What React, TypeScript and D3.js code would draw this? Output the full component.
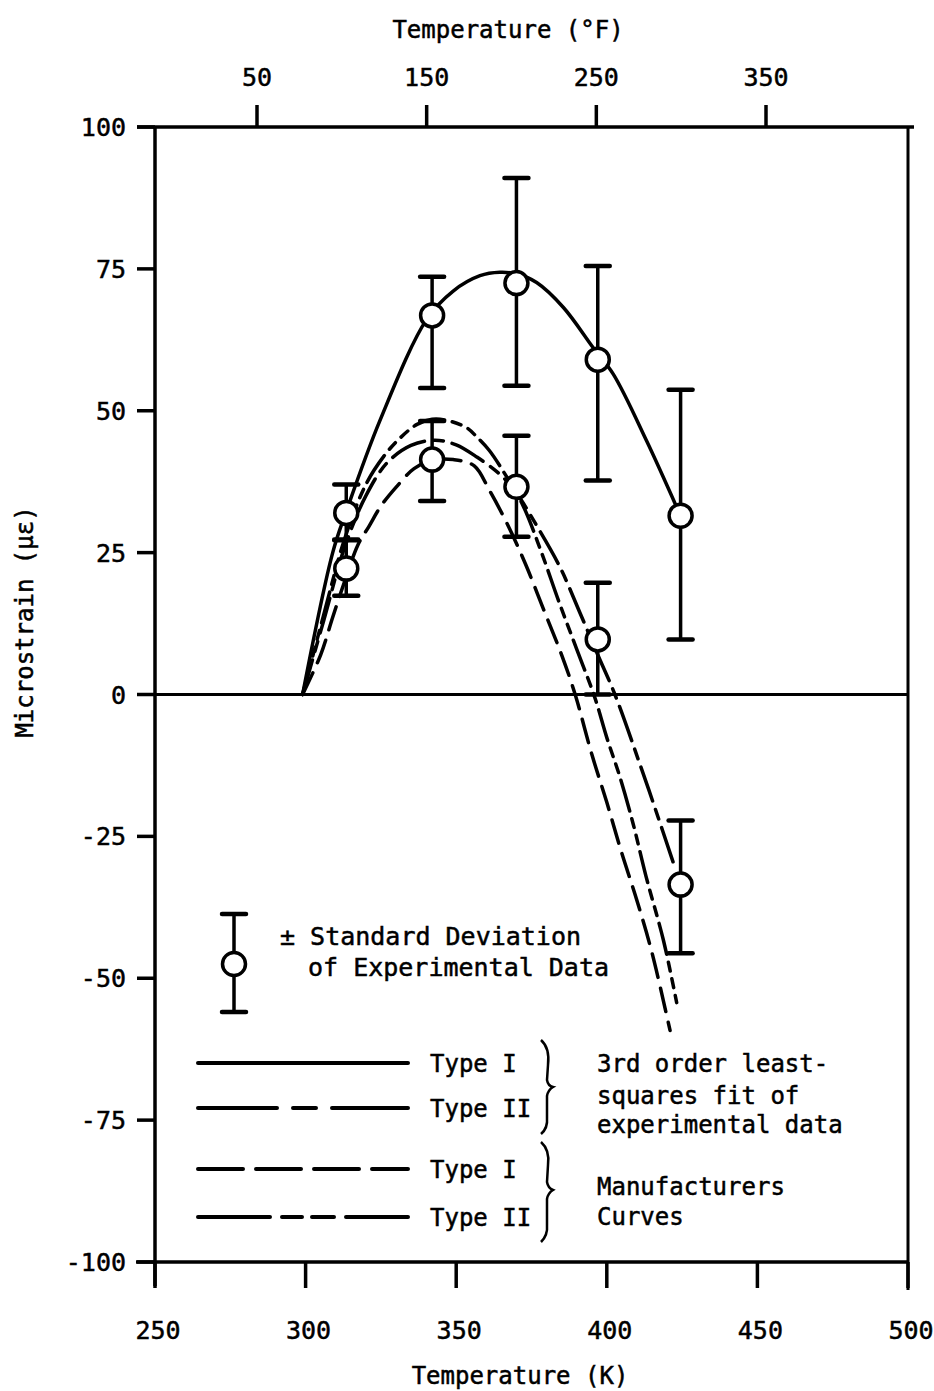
import * as d3 from 'd3'

// axis ticks
const kelvinTicks = [250, 300, 350, 400, 450, 500]
const fahrenheitTicks = [50, 150, 250, 350]
const strainTicks = [100, 75, 50, 25, 0, -25, -50, -75, -100]

// experimental data (mean and +/- standard deviation limits)
const testTemps = [313.5, 342, 370, 397, 424.5]
const type1Mean = [32, 66.8, 72.5, 59, 31.5]
const type1Hi = [37, 73.6, 91, 75.5, 53.7]
const type1Lo = [27.2, 54, 54.4, 37.7, 9.7]
const type2Mean = [22.2, 41.4, 36.6, 9.7, -33.5]
const type2Hi = [27.3, 48.2, 45.6, 19.7, -22.2]
const type2Lo = [17.4, 34.1, 27.8, 0, -45.6]

// curves: [K, microstrain]
const fitType1: [number, number][] = [
  [299, 0], [309, 25], [313.6, 32.4], [324.7, 48.3], [340.2, 66.1], [349, 71.1],
  [357.9, 73.8], [364.5, 74.4], [370.2, 74.1], [376.7, 72.6], [385.6, 68.2],
  [395.5, 61.1], [402.2, 56.4], [413.2, 44.7], [423.2, 33],
]
const fitType2: [number, number][] = [
  [299, 0], [306, 13], [313, 26], [320, 35], [327, 40.8], [335, 43.9], [343, 44.8],
  [350, 44], [357, 41.8], [364.5, 38.8], [370, 35.5], [377, 29.5], [384.5, 22.4],
  [391, 14.5], [397, 7], [402.7, 0], [411, -12.3], [416, -20], [422, -29.5],
]
const mfrType1: [number, number][] = [
  [299, 0], [305, 7], [309, 13.6], [313, 20], [317.4, 26.4], [321, 29.6], [325, 33.2],
  [330, 36.5], [336, 39.8], [342, 41.3], [349, 41.4], [356, 40.3], [361, 36],
  [367, 30], [373, 23], [379, 15], [385, 7], [389.5, 0], [395, -10.5], [400, -19],
  [405, -28], [410, -36.3], [415, -45.5], [421, -59.2],
]
const mfrType2: [number, number][] = [
  [299, 0], [306, 14], [313, 27.5], [320, 37], [326, 42], [331, 45], [337, 47.6],
  [342, 48.5], [347, 48.3], [353.5, 47], [357, 45.3], [361, 43], [366, 39],
  [372, 33.5], [378, 25.5], [384, 16.5], [390, 8], [396, -0.5], [400, -7.6],
  [404.4, -14.6], [408.8, -22.9], [413, -32], [418.8, -43.3], [423.2, -54.3],
]

const curveStyles = [
  { data: fitType1, dash: '', label: 'Type I' },
  { data: fitType2, dash: '36,9,10,9', label: 'Type II' },
  { data: mfrType1, dash: '24,11', label: 'Type I' },
  { data: mfrType2, dash: '32,8,9,8,9,8', label: 'Type II' },
]
const legendDash = ['', '79,16,23,16', '45,13', '72,12,20,10,22,12']

const W = 934
const H = 1391
const FONT = "'DejaVu Sans Mono', monospace"

export default function App() {
  const x = d3.scaleLinear().domain([250, 500]).range([155, 908])
  const xF = d3.scaleLinear().domain([50, 350]).range([257, 766])
  const y = d3.scaleLinear().domain([-100, 100]).range([1262, 127])

  const line = d3
    .line<[number, number]>()
    .x((d) => x(d[0]))
    .y((d) => y(d[1]))
    .curve(d3.curveCatmullRom.alpha(0.5))

  const sw = 3.5
  const capW = 12

  const errorBars = (his: number[], los: number[], key: string) =>
    testTemps.map((t, i) => (
      <g key={key + i}>
        <line x1={x(t)} x2={x(t)} y1={y(his[i])} y2={y(los[i])} stroke="#000" strokeWidth={sw} />
        <line x1={x(t) - capW} x2={x(t) + capW} y1={y(his[i])} y2={y(his[i])} stroke="#000" strokeWidth={sw + 1} strokeLinecap="round" />
        <line x1={x(t) - capW} x2={x(t) + capW} y1={y(los[i])} y2={y(los[i])} stroke="#000" strokeWidth={sw + 1} strokeLinecap="round" />
      </g>
    ))

  const circles = (means: number[], key: string) =>
    testTemps.map((t, i) => (
      <circle key={key + i} cx={x(t)} cy={y(means[i])} r={11.5} fill="#fff" stroke="#000" strokeWidth={sw} />
    ))

  const legendY = [1063, 1108, 1169, 1217]
  const txt = { stroke: '#000', strokeWidth: 0.5 }

  return (
    <svg width={W} height={H} style={{ position: 'absolute', left: 0, top: 0, background: '#fff' }}
      fontFamily={FONT} fill="#000">
      <rect x={0} y={0} width={W} height={H} fill="#fff" />

      {/* frame */}
      <line x1={137} x2={914} y1={y(100)} y2={y(100)} stroke="#000" strokeWidth={3.5} />
      <line x1={x(250)} x2={x(250)} y1={y(100)} y2={1286} stroke="#000" strokeWidth={3.5} />
      <line x1={x(500)} x2={x(500)} y1={y(100)} y2={1290} stroke="#000" strokeWidth={3} />
      <line x1={136} x2={x(500)} y1={y(-100)} y2={y(-100)} stroke="#000" strokeWidth={3.5} />
      <line x1={x(250)} x2={x(500)} y1={y(0)} y2={y(0)} stroke="#000" strokeWidth={3} />

      {/* left axis */}
      {strainTicks.map((v) => (
        <g key={'yt' + v}>
          <line x1={137} x2={x(250)} y1={y(v)} y2={y(v)} stroke="#000" strokeWidth={3.5} />
          <text x={126} y={y(v)} dy="0.36em" textAnchor="end" fontSize={25} {...txt}>{v}</text>
        </g>
      ))}
      <text transform={`translate(33,${622}) rotate(-90)`} textAnchor="middle" fontSize={24} {...txt}>
        Microstrain (με)
      </text>

      {/* bottom axis */}
      {kelvinTicks.map((v) => (
        <g key={'xt' + v}>
          <line x1={x(v)} x2={x(v)} y1={y(-100)} y2={1288} stroke="#000" strokeWidth={3.5} />
          <text x={x(v) + 3} y={1339} textAnchor="middle" fontSize={25} {...txt}>{v}</text>
        </g>
      ))}
      <text x={520} y={1384} textAnchor="middle" fontSize={24} {...txt}>Temperature (K)</text>

      {/* top axis */}
      {fahrenheitTicks.map((v) => (
        <g key={'ft' + v}>
          <line x1={xF(v)} x2={xF(v)} y1={y(100)} y2={105} stroke="#000" strokeWidth={3.5} />
          <text x={xF(v)} y={86} textAnchor="middle" fontSize={25} {...txt}>{v}</text>
        </g>
      ))}
      <text x={508} y={38} textAnchor="middle" fontSize={24} {...txt}>Temperature (°F)</text>

      {/* curves */}
      {curveStyles.map((c, i) => (
        <path key={'c' + i} d={line(c.data) ?? ''} fill="none" stroke="#000" strokeWidth={sw}
          strokeDasharray={c.dash || undefined} strokeLinecap="round" />
      ))}

      {/* data */}
      {errorBars(type1Hi, type1Lo, 'e1')}
      {errorBars(type2Hi, type2Lo, 'e2')}
      {circles(type1Mean, 'p1')}
      {circles(type2Mean, 'p2')}

      {/* legend: error bar symbol */}
      <line x1={234} x2={234} y1={914} y2={1012} stroke="#000" strokeWidth={sw} />
      <line x1={234 - capW} x2={234 + capW} y1={914} y2={914} stroke="#000" strokeWidth={sw + 1} strokeLinecap="round" />
      <line x1={234 - capW} x2={234 + capW} y1={1012} y2={1012} stroke="#000" strokeWidth={sw + 1} strokeLinecap="round" />
      <circle cx={234} cy={964} r={11.5} fill="#fff" stroke="#000" strokeWidth={sw} />
      <text x={280} y={945} fontSize={25} {...txt}>± Standard Deviation</text>
      <text x={308} y={976} fontSize={25} {...txt}>of Experimental Data</text>

      {/* legend: line styles */}
      {curveStyles.map((c, i) => (
        <g key={'lg' + i}>
          <line x1={198} x2={408} y1={legendY[i]} y2={legendY[i]} stroke="#000" strokeWidth={4}
            strokeDasharray={legendDash[i] || undefined} strokeLinecap="round" />
          <text x={430} y={legendY[i] + 9} fontSize={24} {...txt}>{c.label}</text>
        </g>
      ))}
      <path d="M541,1040 Q550,1048 548,1065 L547,1080 Q548,1086 553,1087 Q548,1090 547,1096 L547,1118 Q548,1128 541,1134"
        fill="none" stroke="#000" strokeWidth={2.5} />
      <path d="M541,1142 Q550,1150 548,1165 L547,1182 Q548,1188 553,1190 Q548,1193 547,1199 L547,1225 Q548,1235 541,1242"
        fill="none" stroke="#000" strokeWidth={2.5} />
      <text x={597} y={1072} fontSize={24} {...txt}>3rd order least-</text>
      <text x={597} y={1104} fontSize={24} {...txt}>squares fit of</text>
      <text x={597} y={1133} fontSize={24} {...txt}>experimental data</text>
      <text x={597} y={1195} fontSize={24} {...txt}>Manufacturers</text>
      <text x={597} y={1225} fontSize={24} {...txt}>Curves</text>
    </svg>
  )
}
